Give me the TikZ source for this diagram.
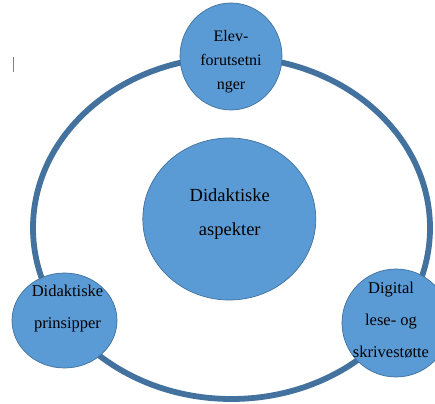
\documentclass[tikz,border=0pt]{standalone}
\usepackage{fontspec}
\setmainfont{Liberation Serif}
\usetikzlibrary{shapes.geometric,calc}
\definecolor{ringblue}{RGB}{67,114,158}
\definecolor{fillblue}{RGB}{91,155,213}
\definecolor{edgeblue}{RGB}{65,113,156}
\tikzset{
  bubble/.style={ellipse, draw=edgeblue, line width=0.7pt, fill=fillblue, inner sep=0pt},
  bigtxt/.style={align=center, font=\fontsize{18.5}{34}\selectfont, text=black, inner sep=0pt},
  smalltxt/.style={align=center, font=\fontsize{16.5}{32}\selectfont, text=black, inner sep=0pt},
  toptxt/.style={align=center, font=\fontsize{16}{24}\selectfont, text=black, inner sep=0pt}
}
\begin{document}
\begin{tikzpicture}[x=1pt,y=1pt]
\useasboundingbox (0,0) rectangle (435,403);
% ring
\node[ellipse, draw=ringblue, line width=5.8pt, minimum width=397pt, minimum height=342pt, inner sep=0pt] (ring) at (231.5,175) {};
% cursor mark
\coordinate (c1) at (13.5,346);
\coordinate (c2) at (13.5,331);
\draw[gray, line width=1.3pt] (c1) -- (c2);
% bubbles
\node[bubble, minimum width=173pt, minimum height=162pt] (center) at (229.3,184) {};
\node[bubble, minimum width=102pt, minimum height=107pt] (top) at (231,346.5) {};
\node[bubble, minimum width=105pt, minimum height=95pt] (left) at (64.5,82.5) {};
\node[bubble, minimum width=108pt, minimum height=108pt] (right) at (396,80) {};
% texts
\node[bigtxt] (centertext) at ($(center.center)+(0.5,4.5)$) {Didaktiske\\aspekter};
\node[toptxt] (toptext) at ($(top.center)+(0,-5.5)$) {Elev-\\forutsetni\\nger};
\node[smalltxt] (lefttext) at ($(left.center)+(3,11.5)$) {Didaktiske\\prinsipper};
\node[smalltxt] (righttext) at ($(right.center)+(-5,3)$) {Digital\\lese- og\\skrivestøtte};
\end{tikzpicture}
\end{document}
